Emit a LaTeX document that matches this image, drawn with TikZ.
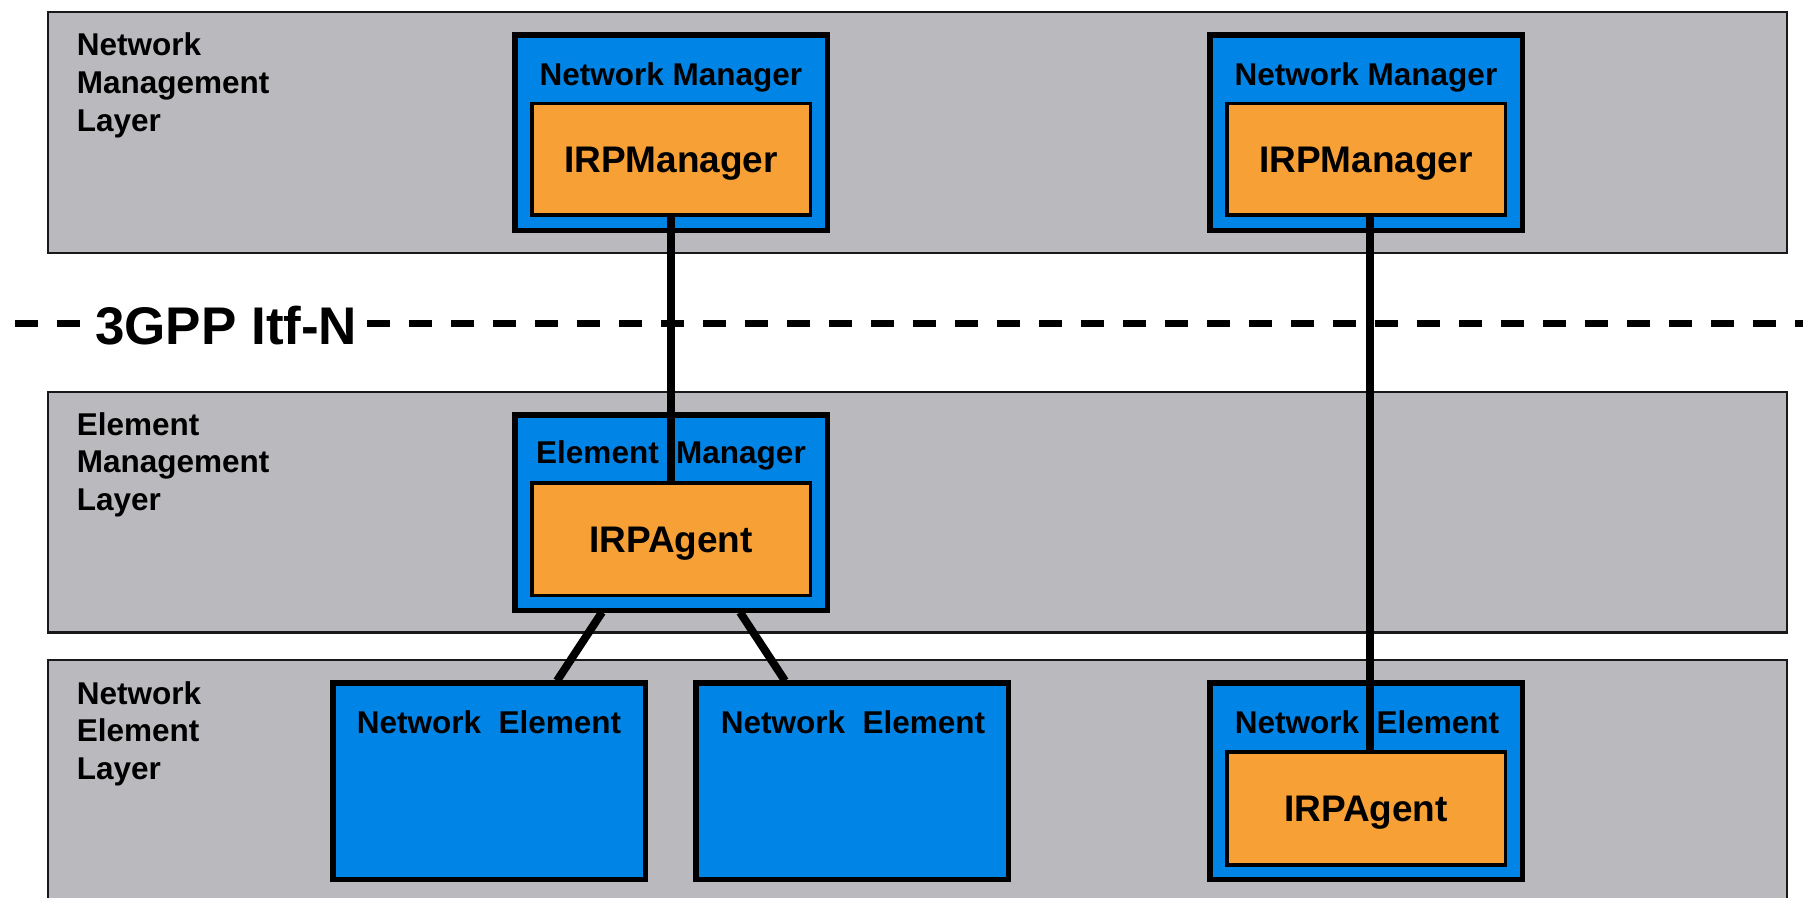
\documentclass[tikz,border=0pt]{standalone}
\usepackage{fontspec}
\setmainfont{Liberation Sans}
\definecolor{layergray}{RGB}{186,185,190}
\definecolor{mblue}{RGB}{0,133,230}
\definecolor{morange}{RGB}{247,160,53}
\begin{document}
\begin{tikzpicture}[x=1pt,y=-1pt,
  layer/.style={draw=black!90, line width=2.2pt, fill=layergray},
  outerbox/.style={draw=black, line width=5.5pt, fill=mblue, inner sep=0pt, outer sep=0pt,
                   minimum width=312.5pt, minimum height=195.5pt},
  innerbox/.style={draw=black, line width=3.5pt, fill=morange, inner sep=0pt, outer sep=0pt,
                   minimum width=278.5pt, minimum height=112pt,
                   font=\bfseries\fontsize{37}{40}\selectfont, text height=26.5pt, text depth=0pt},
  lbl/.style={font=\bfseries\fontsize{31.5}{36}\selectfont, inner sep=0pt, anchor=base west},
  ttl/.style={font=\bfseries\fontsize{31.5}{36}\selectfont, inner sep=0pt, anchor=base},
  itf/.style={font=\bfseries\fontsize{53}{60}\selectfont, inner sep=0pt, anchor=base west},
  link/.style={line width=8pt, black},
  itfline/.style={line width=7pt, black, dash pattern=on 23pt off 19pt},
]
\useasboundingbox (0,0) rectangle (1803,897);
\clip (0,0) rectangle (1803,897);

% layers
\path[layer] (48,12) rectangle (1787,253);
\path[layer] (48,392) rectangle (1787,632.5);
\path[layer] (48,660) rectangle (1787,920);

% layer labels
\node[lbl] (l1a) at (76.7,55) {Network};
\node[lbl] (l1b) at (76.7,93.3) {Management};
\node[lbl] (l1c) at (76.7,131.7) {Layer};
\node[lbl] (l2a) at (76.7,435) {Element};
\node[lbl] (l2b) at (76.7,472.7) {Management};
\node[lbl] (l2c) at (76.7,510.5) {Layer};
\node[lbl] (l3a) at (76.7,704) {Network};
\node[lbl] (l3b) at (76.7,741.7) {Element};
\node[lbl] (l3c) at (76.7,779.5) {Layer};

% interface line
\coordinate (d1s) at (15,323.3);
\coordinate (d1e) at (81,323.3);
\coordinate (d2s) at (367,323.3);
\coordinate (d2e) at (1815,323.3);
\draw[itfline] (d1s) -- (d1e);
\draw[itfline] (d2s) -- (d2e);
\node[itf] (itfn) at (95,344) {3GPP Itf-N};

% outer boxes
\node[outerbox] (nm1) at (671,132.5) {};
\node[outerbox] (nm2) at (1366,132.5) {};
\node[outerbox] (em) at (671,512.5) {};
\node[outerbox, minimum height=196.5pt] (ne1) at (489,781) {};
\node[outerbox, minimum height=196.5pt] (ne2) at (852,781) {};
\node[outerbox, minimum height=196.5pt] (ne3) at (1366,781) {};

% titles
\node[ttl] (nm1t) at (671,85) {Network Manager};
\node[ttl] (nm2t) at (1366,85) {Network Manager};
\node[ttl] (emt) at (671,463.3) {Element\ \ Manager};
\node[ttl] (ne1t) at (489,733.5) {Network\ \ Element};
\node[ttl] (ne2t) at (853,733.5) {Network\ \ Element};
\node[ttl] (ne3t) at (1367,733.5) {Network\ \ Element};

% inner boxes
\node[innerbox, minimum height=111.5pt] (irpm1) at (671,159.2) {IRPManager};
\node[innerbox, minimum height=111.5pt] (irpm2) at (1366,159.2) {IRPManager};
\node[innerbox, minimum height=112.5pt] (ag1) at (671,539) {IRPAgent};
\node[innerbox, minimum height=113pt] (ag2) at (1366,808.3) {IRPAgent};

% connectors
\draw[link] (irpm1.south) -- (ag1.north);
\draw[link] ([xshift=4pt]irpm2.south) -- ([xshift=4pt]ag2.north);
\draw[link] ([xshift=-69pt,yshift=-2pt]em.south) -- ([xshift=68pt,yshift=2pt]ne1.north);
\draw[link] ([xshift=69pt,yshift=-2pt]em.south) -- ([xshift=-67pt,yshift=2pt]ne2.north);
\end{tikzpicture}
\end{document}
